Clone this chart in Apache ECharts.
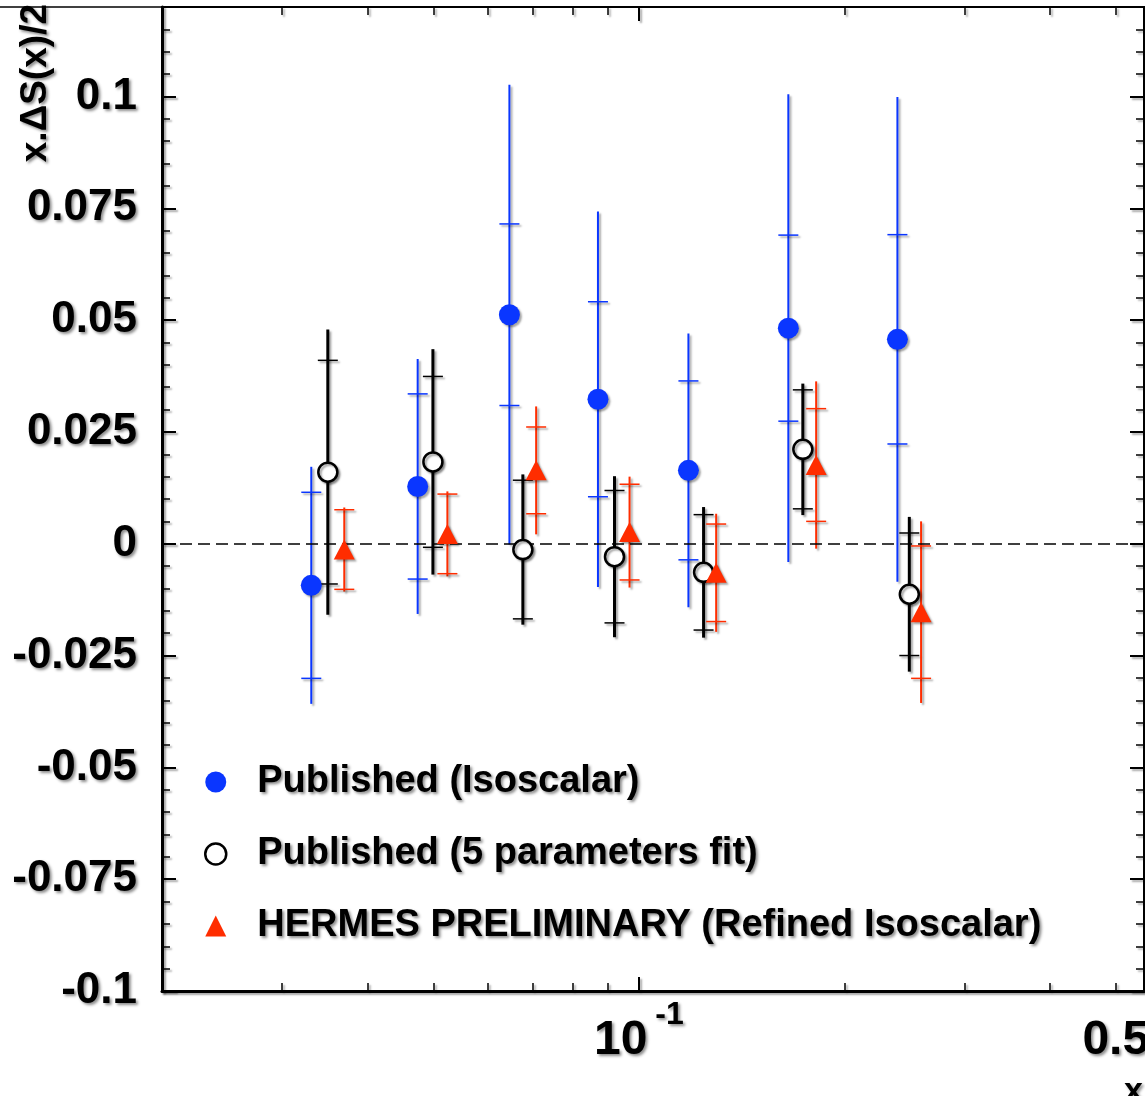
<!DOCTYPE html>
<html>
<head>
<meta charset="utf-8">
<title>x.ΔS(x)/2</title>
<script src="https://cdn.jsdelivr.net/npm/echarts@6/dist/echarts.min.js"></script>
<style>
  html, body { margin: 0; padding: 0; background: #fff; }
  #chart { width: 1145px; height: 1096px; }
</style>
</head>
<body>
<div id="chart"></div>
<script>
// Axis ranges (x is logarithmic)
const X_MIN = 0.02, X_MAX = 0.55;
const Y_MIN = -0.1, Y_MAX = 0.12;

// Tick positions and labels
const yTickValues = [-0.1, -0.075, -0.05, -0.025, 0, 0.025, 0.05, 0.075, 0.1];
const xMajorTicks = [0.1];
const xMinorTicks = [0.03, 0.04, 0.05, 0.06, 0.07, 0.08, 0.09, 0.2, 0.3, 0.4, 0.5];
const xTickLabels = [0.1, 0.5];

const seriesNames = [
  'Published (Isoscalar)',
  'Published (5 parameters fit)',
  'HERMES PRELIMINARY (Refined Isoscalar)'
];

// Published (Isoscalar): x, value, inner (stat) error, outer (total) error
const isoX    = [0.0331, 0.0474, 0.0646, 0.0871, 0.1182, 0.1656, 0.2393];
const isoY    = [-0.0093, 0.0128, 0.0512, 0.0323, 0.0164, 0.0482, 0.0457];
const isoStat = [0.0208, 0.0207, 0.0203, 0.0218, 0.0200, 0.0208, 0.0234];
const isoTot  = [0.0265, 0.0285, 0.0514, 0.0420, 0.0306, 0.0523, 0.0542];

// Published (5 parameters fit)
const fitX    = [0.0350, 0.0499, 0.0676, 0.0921, 0.1244, 0.1739, 0.2491];
const fitY    = [0.0160, 0.0183, -0.0013, -0.0029, -0.0064, 0.0211, -0.0113];
const fitStat = [0.0250, 0.0191, 0.0155, 0.0148, 0.0129, 0.0133, 0.0137];
const fitTot  = [0.0319, 0.0252, 0.0168, 0.0180, 0.0146, 0.0147, 0.0173];

// HERMES preliminary (refined isoscalar)
const refX    = [0.0370, 0.0524, 0.0707, 0.0969, 0.1298, 0.1819, 0.2592];
const refY    = [-0.0013, 0.0022, 0.0164, 0.0026, -0.0065, 0.0176, -0.0153];
const refStat = [0.0089, 0.0089, 0.0097, 0.0107, 0.0109, 0.0126, 0.0148];
const refTot  = [0.0094, 0.0095, 0.0143, 0.0124, 0.0132, 0.0187, 0.0203];

const BLUE = '#0a36ff';
const RED = '#ff2d00';
const BLACK = '#000000';
const FONT = "'Liberation Sans', Arial, Helvetica, sans-serif";

const TEXT_SHADOW = {
  textShadowColor: 'rgba(0,0,0,0.45)', textShadowBlur: 3,
  textShadowOffsetX: 2, textShadowOffsetY: 2
};
const LINE_SHADOW = {
  shadowColor: 'rgba(0,0,0,0.35)', shadowBlur: 2,
  shadowOffsetX: 2, shadowOffsetY: 2
};

const lg = Math.log10;

// minor y ticks every 0.005, skipping the labelled ones
const yMinorTicks = [];
for (let k = -19; k <= 23; k++) {
  if (k % 5 !== 0) yMinorTicks.push(Math.round(k * 5) / 1000);
}

function pointsOf(xs, ys) {
  return xs.map((x, i) => [lg(x), ys[i]]);
}
function barsOf(xs, ys, stat, tot) {
  return xs.map((x, i) => [lg(x), ys[i], stat[i], tot[i]]);
}

// vertical error bar: full line to the outer error, short caps at the inner error
function errorBar(color, lineWidth, capWidth, capHalf) {
  return function (params, api) {
    const x = api.value(0), y = api.value(1);
    const eIn = api.value(2), eOut = api.value(3);
    const top = api.coord([x, y + eOut]);
    const bot = api.coord([x, y - eOut]);
    const capT = api.coord([x, y + eIn]);
    const capB = api.coord([x, y - eIn]);
    const base = Object.assign({ stroke: color }, LINE_SHADOW);
    return {
      type: 'group',
      children: [
        { type: 'line', shape: { x1: top[0], y1: top[1], x2: bot[0], y2: bot[1] },
          style: Object.assign({}, base, { lineWidth: lineWidth }) },
        { type: 'line', shape: { x1: capT[0] - capHalf, y1: capT[1], x2: capT[0] + capHalf, y2: capT[1] },
          style: Object.assign({}, base, { lineWidth: capWidth }) },
        { type: 'line', shape: { x1: capB[0] - capHalf, y1: capB[1], x2: capB[0] + capHalf, y2: capB[1] },
          style: Object.assign({}, base, { lineWidth: capWidth }) }
      ]
    };
  };
}

function xLabel(v) {
  const x = Math.pow(10, v);
  const e = Math.round(v);
  if (Math.abs(v - e) < 1e-9) return '{b|10}{s|' + e + '}';
  return '{b|' + (Math.round(x * 100) / 100) + '}';
}

const hiddenLine = { show: false, onZero: false };
const xBase = {
  type: 'value', min: lg(X_MIN), max: lg(X_MAX),
  splitLine: { show: false }, axisLabel: { show: false },
  axisLine: hiddenLine, nameMoveOverlap: false
};
const yBase = {
  type: 'value', min: Y_MIN, max: Y_MAX,
  splitLine: { show: false }, axisLabel: { show: false },
  axisLine: hiddenLine, nameMoveOverlap: false
};
function tick(values, len, width) {
  return {
    show: true, inside: true, length: len, customValues: values,
    lineStyle: Object.assign({ color: BLACK, width: width }, LINE_SHADOW)
  };
}

const option = {
  backgroundColor: '#ffffff',
  animation: false,
  grid: {
    left: 162, right: 1, top: 7, bottom: 105,
    show: true, borderColor: BLACK, borderWidth: 2,
    backgroundColor: 'transparent',
    outerBoundsMode: 'none'
  },
  graphic: [
    { type: 'line', shape: { x1: 0, y1: 7, x2: 162, y2: 7 },
      style: { stroke: BLACK, lineWidth: 1.5 } }
  ],
  legend: {
    orient: 'vertical', left: 199, top: 754,
    itemWidth: 21, itemHeight: 21, itemGap: 26,
    selectedMode: false,
    textStyle: Object.assign({
      fontFamily: FONT, fontSize: 38, fontWeight: 'bold', color: BLACK,
      lineHeight: 42, padding: [4, 0, 0, 26]
    }, TEXT_SHADOW),
    data: [
      { name: seriesNames[0], icon: 'circle', itemStyle: { color: BLUE, borderWidth: 0 } },
      { name: seriesNames[1], icon: 'circle', itemStyle: { color: '#fff', borderColor: BLACK, borderWidth: 2.5 } },
      { name: seriesNames[2], icon: 'triangle', itemStyle: { color: RED, borderWidth: 0 } }
    ]
  },
  xAxis: [
    Object.assign({}, xBase, {
      position: 'bottom',
      axisLine: { show: true, onZero: false, lineStyle: Object.assign({ color: BLACK, width: 3 }, LINE_SHADOW) },
      axisTick: tick(xMajorTicks.map(lg), 14, 2),
      axisLabel: {
        show: true, customValues: xTickLabels.map(lg), margin: 8,
        formatter: xLabel,
        rich: {
          b: Object.assign({ fontFamily: FONT, fontSize: 48, fontWeight: 'bold', color: BLACK, lineHeight: 84 }, TEXT_SHADOW),
          s: Object.assign({ fontFamily: FONT, fontSize: 32, fontWeight: 'bold', color: BLACK, lineHeight: 32,
                             verticalAlign: 'top', padding: [0, 0, 0, 8] }, TEXT_SHADOW)
        }
      },
      name: 'x', nameLocation: 'end', nameGap: -20,
      nameTextStyle: Object.assign({
        fontFamily: FONT, fontSize: 34, fontWeight: 'bold', color: BLACK,
        align: 'left', verticalAlign: 'top', padding: [84, 0, 0, 0]
      }, TEXT_SHADOW)
    }),
    Object.assign({}, xBase, { position: 'bottom', axisTick: tick(xMinorTicks.map(lg), 8, 1.5) }),
    Object.assign({}, xBase, { position: 'top', axisTick: tick(xMajorTicks.map(lg), 14, 2) }),
    Object.assign({}, xBase, { position: 'top', axisTick: tick(xMinorTicks.map(lg), 8, 1.5) })
  ],
  yAxis: [
    Object.assign({}, yBase, {
      position: 'left',
      axisLine: { show: true, onZero: false, lineStyle: Object.assign({ color: BLACK, width: 3 }, LINE_SHADOW) },
      axisTick: tick(yTickValues, 14, 2),
      axisLabel: Object.assign({
        show: true, customValues: yTickValues, margin: 25,
        fontFamily: FONT, fontSize: 44, fontWeight: 'bold', color: BLACK
      }, TEXT_SHADOW),
      name: 'x.\u0394S(x)/2', nameLocation: 'end', nameRotate: 90, nameGap: 3,
      nameTextStyle: Object.assign({
        fontFamily: FONT, fontSize: 37, fontWeight: 'bold', color: BLACK,
        align: 'right', verticalAlign: 'bottom', padding: [0, 0, 108, 0]
      }, TEXT_SHADOW)
    }),
    Object.assign({}, yBase, { position: 'left', axisTick: tick(yMinorTicks, 8, 1.5) }),
    Object.assign({}, yBase, { position: 'right', axisTick: tick(yTickValues, 14, 2) }),
    Object.assign({}, yBase, { position: 'right', axisTick: tick(yMinorTicks, 8, 1.5) })
  ],
  series: [
    {
      name: 'iso-errors', type: 'custom', xAxisIndex: 0, yAxisIndex: 0,
      renderItem: errorBar(BLUE, 2, 1.5, 10), encode: { x: 0, y: 1 },
      data: barsOf(isoX, isoY, isoStat, isoTot), z: 3, silent: true
    },
    {
      name: 'fit-errors', type: 'custom', xAxisIndex: 0, yAxisIndex: 0,
      renderItem: errorBar(BLACK, 3, 1.5, 10), encode: { x: 0, y: 1 },
      data: barsOf(fitX, fitY, fitStat, fitTot), z: 3, silent: true
    },
    {
      name: 'ref-errors', type: 'custom', xAxisIndex: 0, yAxisIndex: 0,
      renderItem: errorBar(RED, 2, 1.5, 10), encode: { x: 0, y: 1 },
      data: barsOf(refX, refY, refStat, refTot), z: 3, silent: true
    },
    {
      name: seriesNames[0], type: 'scatter', xAxisIndex: 0, yAxisIndex: 0,
      symbol: 'circle', symbolSize: 21, z: 5,
      itemStyle: Object.assign({ color: BLUE, opacity: 1 }, LINE_SHADOW),
      data: pointsOf(isoX, isoY),
      markLine: {
        silent: true, symbol: 'none', label: { show: false },
        lineStyle: { color: BLACK, type: [12, 6], width: 1.5 },
        data: [{ yAxis: 0 }]
      }
    },
    {
      name: seriesNames[1], type: 'scatter', xAxisIndex: 0, yAxisIndex: 0,
      symbol: 'circle', symbolSize: 19, z: 5,
      itemStyle: Object.assign({ color: '#ffffff', borderColor: BLACK, borderWidth: 2.5, opacity: 1 }, LINE_SHADOW),
      data: pointsOf(fitX, fitY)
    },
    {
      name: seriesNames[2], type: 'scatter', xAxisIndex: 0, yAxisIndex: 0,
      symbol: 'triangle', symbolSize: [21, 20], z: 5,
      itemStyle: Object.assign({ color: RED, opacity: 1 }, LINE_SHADOW),
      data: pointsOf(refX, refY)
    }
  ]
};

const chart = echarts.init(document.getElementById('chart'), null, { renderer: 'canvas' });
chart.setOption(option);
</script>
</body>
</html>
